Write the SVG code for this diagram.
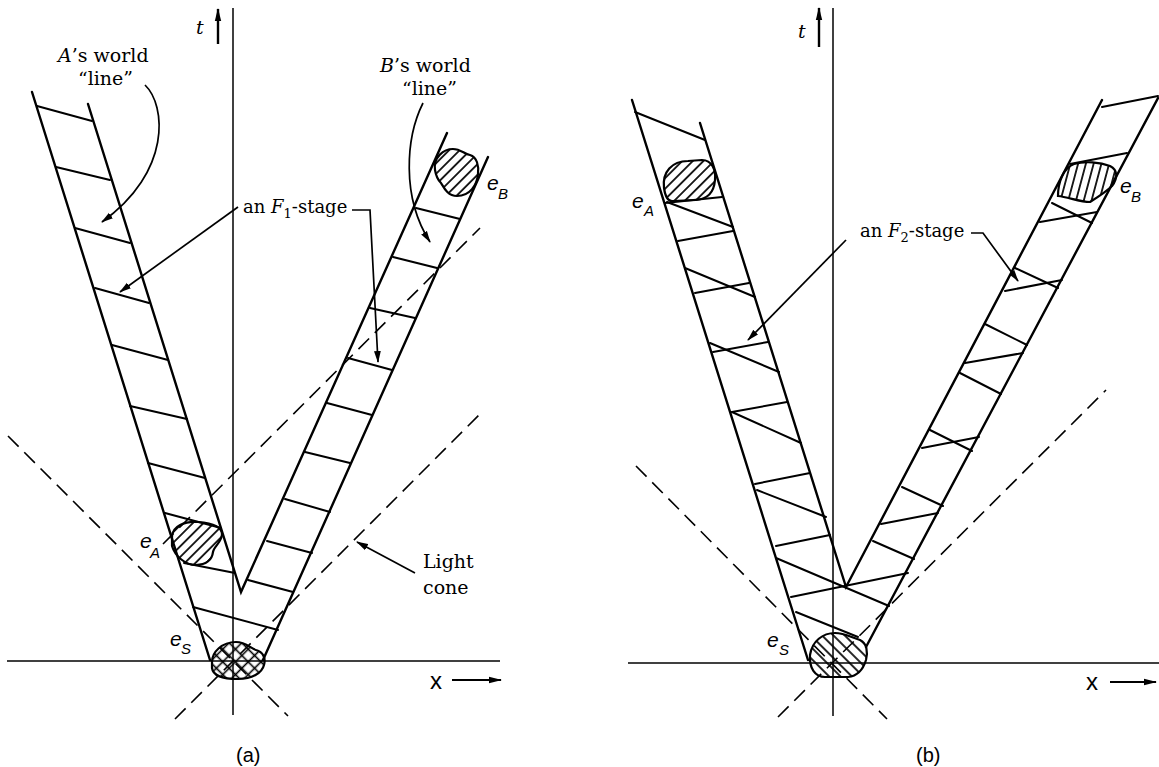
<svg xmlns="http://www.w3.org/2000/svg" width="1159" height="767" viewBox="0 0 1159 767">
<style>
.ax{stroke:#000;stroke-width:1.5;fill:none}
.band{stroke:#000;stroke-width:2.4;fill:none;stroke-linecap:round}
.rung{stroke:#000;stroke-width:2;fill:none;stroke-linecap:round}
.cone{stroke:#000;stroke-width:1.6;fill:none;stroke-dasharray:15 8}
.lead{stroke:#000;stroke-width:1.7;fill:none}
.blob{stroke:#000;stroke-width:2.2}
.lbl{font-family:"DejaVu Serif","Liberation Serif",serif;font-size:19px;fill:#000}
.stg{font-family:"DejaVu Serif","Liberation Serif",serif;font-size:18px;fill:#000}
.it{font-style:italic}
.ev{font-family:"Liberation Sans",Arial,sans-serif;font-style:italic;font-size:21px;fill:#000}
.evs{font-family:"Liberation Sans",Arial,sans-serif;font-style:italic;font-size:15px;fill:#000}
.sans{font-family:"Liberation Sans",Arial,sans-serif;font-size:24px;fill:#000}
.cap{font-family:"Liberation Sans",Arial,sans-serif;font-size:20px;fill:#000}
</style>
<defs>
<marker id="ah" viewBox="0 0 12 8" refX="11" refY="4" markerWidth="12" markerHeight="8" orient="auto" markerUnits="userSpaceOnUse"><path d="M0,0.6 L12,4 L0,7.4 Z" fill="#000"/></marker>
<marker id="ahb" viewBox="0 0 13 8" refX="12" refY="4" markerWidth="13" markerHeight="8" orient="auto" markerUnits="userSpaceOnUse"><path d="M0,0.8 L13,4 L0,7.2 Z" fill="#000"/></marker>
<pattern id="h45" patternUnits="userSpaceOnUse" width="7.5" height="7.5" patternTransform="rotate(45)"><line x1="3.75" y1="-1" x2="3.75" y2="9" stroke="#000" stroke-width="1.7"/></pattern>
<pattern id="h15" patternUnits="userSpaceOnUse" width="7.5" height="7.5" patternTransform="rotate(15)"><line x1="3.75" y1="-1" x2="3.75" y2="9" stroke="#000" stroke-width="1.7"/></pattern>
<pattern id="hm45" patternUnits="userSpaceOnUse" width="8" height="8" patternTransform="rotate(-45)"><line x1="4" y1="-1" x2="4" y2="9" stroke="#000" stroke-width="1.7"/></pattern>
<pattern id="hx" patternUnits="userSpaceOnUse" width="9" height="9" patternTransform="rotate(45)"><line x1="4.5" y1="-1" x2="4.5" y2="10" stroke="#000" stroke-width="1.6"/><line x1="-1" y1="4.5" x2="10" y2="4.5" stroke="#000" stroke-width="1.6"/></pattern>
</defs>
<rect x="0" y="0" width="1159" height="767" fill="#fff"/>

<!-- ===================== PANEL (a) ===================== -->
<g id="panel-a">
  <g id="a-axes">
    <line class="ax" x1="233" y1="8" x2="233" y2="715"/>
    <line class="ax" x1="7" y1="661" x2="500" y2="661"/>
    <line x1="218" y1="44" x2="218" y2="9" stroke="#000" stroke-width="2.4" marker-end="url(#ahb)"/>
    <text class="lbl it" x="196" y="34" font-size="20">t</text>
    <line x1="452" y1="680" x2="501" y2="680" stroke="#000" stroke-width="2" marker-end="url(#ahb)"/>
    <text class="sans" x="430" y="689">x</text>
  </g>
  <g id="a-lightcones">
    <line class="cone" x1="8" y1="436" x2="288" y2="716"/>
    <line class="cone" x1="175" y1="719" x2="483" y2="411"/>
    <line class="cone" x1="163" y1="544" x2="480" y2="228"/>
  </g>
  <g id="a-worldline-A">
    <path class="band" d="M32,92 L210,660"/>
    <path class="band" d="M88,104 L241,592 L447,133"/>
    <path class="rung" d="M37,106 L92,121 M56,167 L110,180 M75,228 L130,243 M95,288 L149,303 M112,345 L168,360 M130,406 L187,419 M148,463 L205,478 M165,513 L221,528 M184,563 L235,573 M193,607 L278,630"/>
  </g>
  <g id="a-worldline-B">
    <path class="band" d="M488,157 L263,660"/>
    <path class="rung" d="M248,580 L293,592 M267,541 L312,553 M285,499 L330,512 M305,452 L350,463 M327,403 L372,415 M348,358 L392,370 M370,308 L415,318 M393,257 L437,268 M416,208 L460,219"/>
  </g>
  <g id="a-eA">
    <path class="blob" fill="url(#h45)" d="M172,537 C172,526 185,521 198,522 C212,523 222,527 222,534 C222,542 214,546 213,552 C212,560 206,565 196,565 C185,565 175,556 172,546 Z"/>
    <text class="ev" x="140" y="548">e</text><text class="evs" x="150" y="558">A</text>
  </g>
  <g id="a-eB">
    <path class="blob" fill="url(#h45)" d="M435,170 C433,157 444,149 453,149 C461,149 464,154 470,155 C477,157 479,166 478,174 C477,185 470,196 457,196 C448,196 444,188 441,183 C437,179 436,176 435,170 Z"/>
    <text class="ev" x="487" y="190">e</text><text class="evs" x="498" y="199">B</text>
  </g>
  <g id="a-eS">
    <path class="blob" fill="url(#hx)" d="M212,662 C212,652 222,642 236,642 C246,642 250,648 256,650 C263,652 266,658 264,665 C262,673 252,679 238,679 C224,679 213,676 212,668 Z"/>
    <text class="ev" x="170" y="646">e</text><text class="evs" x="181" y="654">S</text>
  </g>
  <g id="a-labels">
    <text class="lbl" x="58" y="62"><tspan class="it">A</tspan>’s world</text>
    <text class="lbl" x="78" y="85">“line”</text>
    <text class="lbl" x="380" y="72"><tspan class="it">B</tspan>’s world</text>
    <text class="lbl" x="402" y="95">“line”</text>
    <text class="stg" x="243" y="213">an <tspan class="it">F</tspan><tspan font-size="13" dy="5">1</tspan><tspan dy="-5">-stage</tspan></text>
    <text class="lbl" x="423" y="568">Light</text>
    <text class="lbl" x="423" y="594">cone</text>
    <text class="cap" x="236" y="762">(a)</text>
  </g>
</g>

<!-- ===================== PANEL (b) ===================== -->
<g id="panel-b">
  <g id="b-axes">
    <line class="ax" x1="833" y1="8" x2="833" y2="716"/>
    <line class="ax" x1="628" y1="663" x2="1159" y2="663"/>
    <line x1="819" y1="47" x2="819" y2="8" stroke="#000" stroke-width="2.4" marker-end="url(#ahb)"/>
    <text class="lbl it" x="798" y="38" font-size="20">t</text>
    <line x1="1110" y1="682" x2="1156" y2="682" stroke="#000" stroke-width="2" marker-end="url(#ahb)"/>
    <text class="sans" x="1086" y="690">x</text>
  </g>
  <g id="b-lightcones">
    <line class="cone" x1="636" y1="466" x2="887" y2="719"/>
    <line class="cone" x1="778" y1="717" x2="1106" y2="390"/>
  </g>
  <g id="b-worldline-A">
    <path class="band" d="M632,100 L808,660"/>
    <path class="band" d="M700,123 L846,587 L1102,100"/>
    <path class="rung" d="M665,203 L722,197 M678,241 L733,231 M695,293 L749,283 M713,352 L768,342 M732,412 L787,402 M755,484 L810,473 M776,546 L830,535 M791,597 L908,573"/>
    <path class="rung" d="M635,112 L705,140 M667,202 L733,227 M685,268 L755,297 M710,343 L779,372 M732,412 L801,443 M757,490 L826,517 M776,558 L889,606 M796,612 L858,637"/>
  </g>
  <g id="b-worldline-B">
    <path class="band" d="M1158,98 L866,647"/>
    <path class="rung" d="M1102,107 L1158,96 M1070,164 L1127,153 M1040,222 L1097,212 M1005,291 L1062,280 M965,363 L1023,353 M922,448 L979,437 M881,524 L938,513"/>
    <path class="rung" d="M1052,203 L1092,223 M1015,268 L1058,288 M985,324 L1027,345 M960,373 L1001,394 M930,430 L972,451 M902,487 L943,506 M873,541 L914,559"/>
  </g>
  <g id="b-eA">
    <path class="blob" fill="url(#h45)" d="M664,188 C662,172 672,161 688,161 L702,160 C712,160 716,170 715,180 C714,192 708,199 696,200 L672,201 C667,201 665,195 664,188 Z"/>
    <text class="ev" x="632" y="208">e</text><text class="evs" x="644" y="216">A</text>
  </g>
  <g id="b-eB">
    <path class="blob" fill="url(#h15)" d="M1058,196 C1058,183 1063,168 1074,164 C1085,161 1100,162 1110,166 C1118,170 1118,178 1112,186 C1106,192 1098,197 1090,202 C1080,202 1068,197 1058,196 Z"/>
    <text class="ev" x="1120" y="193">e</text><text class="evs" x="1131" y="202">B</text>
  </g>
  <g id="b-eS">
    <path class="blob" fill="url(#hm45)" d="M810,655 C812,641 823,633 835,633 C845,633 852,638 860,640 C867,643 868,652 866,660 C863,670 858,676 848,677 L825,677 C815,677 809,668 810,655 Z"/>
    <text class="ev" x="767" y="647">e</text><text class="evs" x="779" y="655">S</text>
  </g>
  <g id="b-labels">
    <text class="stg" x="860" y="237">an <tspan class="it">F</tspan><tspan font-size="13" dy="5">2</tspan><tspan dy="-5">-stage</tspan></text>
    <text class="cap" x="916" y="762">(b)</text>
  </g>
</g>

<!-- ===================== CONNECTORS (annotation leaders) ===================== -->
<g id="connectors">
  <path class="lead" d="M145,85 C166,105 172,172 102,222" marker-end="url(#ah)"/>
  <path class="lead" d="M423,103 C406,137 401,197 430,242" marker-end="url(#ah)"/>
  <path class="lead" d="M238,207 L120,292" marker-end="url(#ah)"/>
  <path class="lead" d="M352,210 L370,210 L378,362" marker-end="url(#ah)"/>
  <path class="lead" d="M415,573 L357,542" marker-end="url(#ah)"/>
  <path class="lead" d="M846,240 L748,340" marker-end="url(#ah)"/>
  <path class="lead" d="M971,233 L983,233 L1018,281" marker-end="url(#ah)"/>
</g>
</svg>
